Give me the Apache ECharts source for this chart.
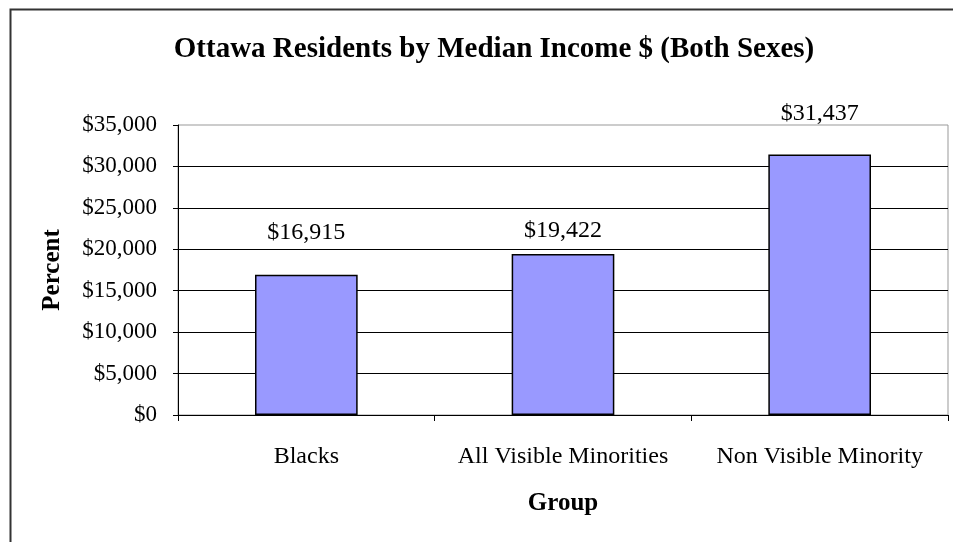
<!DOCTYPE html>
<html>
<head>
<meta charset="utf-8">
<script src="https://cdn.jsdelivr.net/npm/echarts@6/dist/echarts.min.js"></script>
<style>
  html, body { margin: 0; padding: 0; background: #fff; }
  #chart { width: 953px; height: 542px; }
</style>
</head>
<body>
<div id="chart"></div>
<script>
// Median income by group, Ottawa residents (both sexes)
const groups = ['Blacks', 'All Visible Minorities', 'Non Visible Minority'];
const medianIncome = [16915, 19422, 31437];
const yTicks = { min: 0, max: 35000, step: 5000 };

const serif = '"Liberation Serif", "DejaVu Serif", serif';
const money = v => '$' + v.toLocaleString('en-US');

// gap between each bar top and its value label
const labelGaps = [30, 11, 29];

const chart = echarts.init(document.getElementById('chart'), null, { renderer: 'canvas' });
chart.setOption({
  animation: false,
  backgroundColor: '#fff',
  textStyle: { fontFamily: serif },
  title: {
    text: 'Ottawa Residents by Median Income $ (Both Sexes)',
    left: 489,
    top: 30,
    textAlign: 'center',
    textStyle: { fontFamily: serif, fontWeight: 'bold', fontSize: 29, color: '#000' }
  },
  graphic: [{
    type: 'rect',
    left: 8, top: 7,
    shape: { width: 1000, height: 600 },
    style: { fill: 'none', stroke: '#333', lineWidth: 2 },
    silent: true
  }],
  grid: {
    left: 178, right: 5, top: 125, bottom: 127,
    show: true, borderColor: '#999', borderWidth: 1
  },
  xAxis: {
    type: 'category',
    data: groups,
    name: 'Group',
    nameLocation: 'middle',
    nameGap: 76,
    nameTextStyle: { fontFamily: serif, fontWeight: 'bold', fontSize: 25, color: '#000' },
    axisLine: { lineStyle: { color: '#000', width: 1 } },
    axisTick: { show: true, interval: 0, length: 6, lineStyle: { color: '#000' } },
    axisLabel: { interval: 0, hideOverlap: false, fontFamily: serif, fontSize: 24, color: '#000', margin: 30 },
    splitLine: { show: false }
  },
  yAxis: {
    type: 'value',
    min: yTicks.min, max: yTicks.max, interval: yTicks.step,
    name: 'Percent',
    nameLocation: 'middle',
    nameRotate: 90,
    nameGap: 113,
    nameTextStyle: { fontFamily: serif, fontWeight: 'bold', fontSize: 25, color: '#000' },
    axisLine: { show: true, lineStyle: { color: '#000', width: 1 } },
    axisTick: { show: true, length: 5, lineStyle: { color: '#000' } },
    axisLabel: { fontFamily: serif, fontSize: 23, color: '#000', margin: 21, formatter: money },
    splitLine: { show: true, showMaxLine: false, lineStyle: { color: '#000', width: 1 } }
  },
  series: [{
    type: 'bar',
    data: medianIncome.map((v, i) => ({ value: v, label: { distance: labelGaps[i] } })),
    barWidth: '40%',
    itemStyle: { color: '#9999FF', borderColor: '#000', borderWidth: 1.5 },
    label: {
      show: true,
      position: 'top',
      fontFamily: serif,
      fontSize: 24,
      color: '#000',
      formatter: p => money(p.value)
    }
  }]
});
</script>
</body>
</html>
